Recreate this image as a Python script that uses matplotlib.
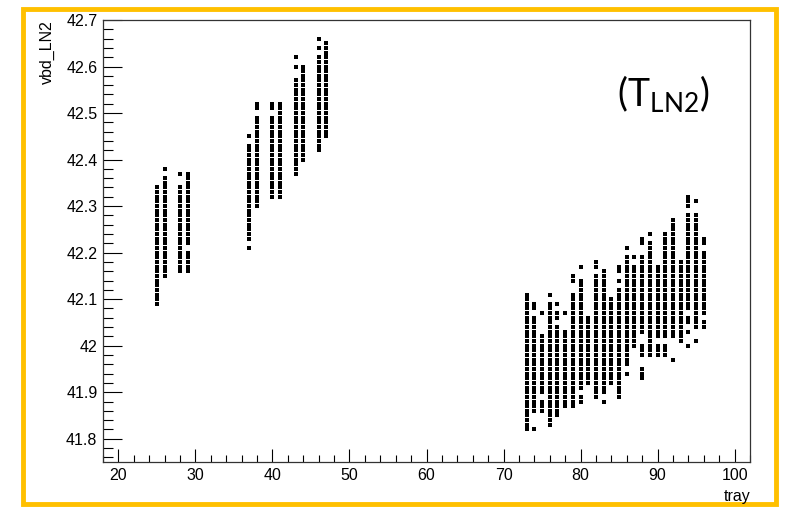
import numpy as np
import matplotlib
matplotlib.use("Agg")
import matplotlib.pyplot as plt
from matplotlib.patches import Rectangle
from matplotlib.ticker import MultipleLocator

plt.rcParams["font.family"] = ["Liberation Sans", "DejaVu Sans"]
plt.rcParams["mathtext.fontset"] = "custom"
plt.rcParams["mathtext.rm"] = "Lato"

# breakdown voltage readings per tray, stored as runs of readings (lo, hi)
# taken on the 0.01 V grid of the measurement
trays = [25, 26, 28, 29, 37, 38, 40, 41, 43, 44, 46, 47] + list(range(73, 97))
runs = [
    [(42.09, 42.34)],
    [(42.38, 42.38), (42.15, 42.36)],
    [(42.37, 42.37), (42.16, 42.34)],
    [(42.22, 42.37), (42.16, 42.20)],
    [(42.45, 42.45), (42.23, 42.43), (42.21, 42.21)],
    [(42.51, 42.52), (42.30, 42.49)],
    [(42.51, 42.52), (42.32, 42.49)],
    [(42.32, 42.52)],
    [(42.62, 42.62), (42.60, 42.60), (42.37, 42.57)],
    [(42.40, 42.60)],
    [(42.66, 42.66), (42.64, 42.64), (42.42, 42.62)],
    [(42.46, 42.65), (42.45, 42.45)],
    # trays 73 - 96
    [(41.82, 42.11)],
    [(42.08, 42.09), (41.86, 42.06), (41.82, 41.82)],
    [(42.07, 42.07), (41.90, 42.02), (41.86, 41.88)],
    [(42.11, 42.11), (41.83, 42.09)],
    [(42.09, 42.09), (42.06, 42.07), (41.85, 42.04)],
    [(42.07, 42.07), (41.87, 42.03)],
    [(42.14, 42.15), (41.87, 42.11)],
    [(42.17, 42.17), (41.91, 42.14), (41.88, 41.89)],
    [(41.92, 42.06)],
    [(42.17, 42.18), (41.89, 42.15)],
    [(41.90, 42.16), (41.88, 41.88)],
    [(41.92, 42.10)],
    [(42.16, 42.17), (42.14, 42.14), (41.89, 42.12)],
    [(42.21, 42.21), (41.96, 42.19), (41.94, 41.94)],
    [(42.19, 42.19), (42.00, 42.17)],
    [(42.22, 42.23), (42.03, 42.19), (41.98, 42.00), (41.93, 41.95)],
    [(42.24, 42.24), (41.98, 42.22)],
    [(42.02, 42.17), (41.98, 42.00)],
    [(42.22, 42.24), (42.02, 42.21), (41.98, 42.00)],
    [(42.02, 42.27), (41.97, 41.97)],
    [(42.01, 42.18)],
    [(42.30, 42.32), (42.08, 42.28), (42.05, 42.06), (42.03, 42.03), (42.00, 42.00)],
    [(42.31, 42.31), (42.04, 42.28), (42.01, 42.01)],
    [(42.22, 42.23), (42.07, 42.20), (42.04, 42.05)],
]

xs, ys = [], []
for t, rr in zip(trays, runs):
    for lo, hi in rr:
        n = int(round((hi - lo) / 0.01)) + 1
        v = lo + 0.01 * np.arange(n)
        xs.extend([t] * n)
        ys.extend(v)

fig = plt.figure(figsize=(7.85, 5.14), dpi=100)
ax = fig.add_axes([103 / 785, 1 - 462 / 514, 647 / 785, 442 / 514])

ax.scatter(xs, ys, s=7, marker="s", color="black", linewidths=0)

ax.set_xlim(18, 102)
ax.set_ylim(41.75, 42.7)
ax.xaxis.set_major_locator(MultipleLocator(10))
ax.xaxis.set_minor_locator(MultipleLocator(2))
ax.yaxis.set_minor_locator(MultipleLocator(0.02))
ax.set_yticks(np.arange(41.8, 42.71, 0.1))
ax.set_yticklabels(["41.8", "41.9", "42", "42.1", "42.2", "42.3", "42.4", "42.5", "42.6", "42.7"])

ax.tick_params(axis="x", which="major", direction="in", length=9.5, width=0.8, pad=4, labelsize=11.5)
ax.tick_params(axis="x", which="minor", direction="in", length=4.8, width=0.8)
ax.tick_params(axis="y", which="major", direction="in", length=14, width=0.8, pad=4, labelsize=11.5)
ax.tick_params(axis="y", which="minor", direction="in", length=7, width=0.8)
for sp in ax.spines.values():
    sp.set_linewidth(0.9)
    sp.set_color("#333333")

fig.text(47 / 785, 1 - 20 / 514, "vbd_LN2", rotation=90, ha="center", va="top", fontsize=11.5)
fig.text(750 / 785, 1 - 504 / 514, "tray", ha="right", va="bottom", fontsize=11.5)
fig.text(663 / 785, 1 - 94 / 514, r"$(\mathrm{T}_{\mathrm{LN2}})$", ha="center", va="center", fontsize=27)

fig.patches.append(Rectangle((23 / 785, 10 / 514), 753 / 785, 495 / 514, transform=fig.transFigure,
                             fill=False, edgecolor="#FFC000", linewidth=3.5))

fig.savefig("out.png", dpi=100)
